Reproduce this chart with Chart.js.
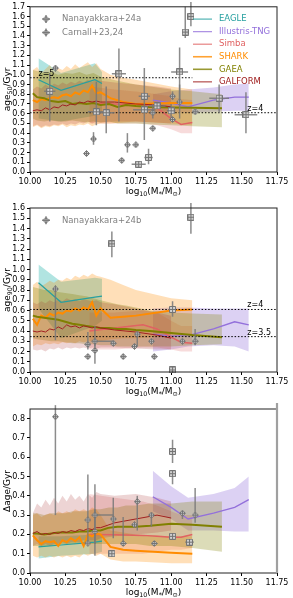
<!DOCTYPE html>
<html>
<head>
<meta charset="utf-8">
<script src="https://cdn.jsdelivr.net/npm/chart.js@4.4.1/dist/chart.umd.min.js"></script>
<style>
  html, body { margin: 0; padding: 0; background: #fff; }
  #wrap { position: relative; width: 293px; height: 598px; overflow: hidden; }
  canvas { position: absolute; left: 0; }
</style>
</head>
<body>
<div id="wrap">
  <canvas id="pAge50" width="293" height="200" style="top:0"></canvas>
  <canvas id="pAge90" width="293" height="200" style="top:200px"></canvas>
  <canvas id="pDage" width="293" height="198" style="top:400px"></canvas>
</div>
<script>
// ---- simulations ----
const simNames = ["EAGLE", "Illustris-TNG", "Simba", "SHARK", "GAEA", "GALFORM"];
const simColors = ["#27a0a0", "#9370db", "#e06262", "#ff8c00", "#808000", "#a02020"];
const simFills = ["rgba(32,178,170,0.35)", "rgba(147,112,219,0.32)", "rgba(220,90,90,0.22)",
                  "rgba(255,140,0,0.28)", "rgba(128,128,0,0.28)", "rgba(165,42,42,0.2)"];
const simWidths = [1.2, 1.3, 1.5, 2, 2, 1];

const eagleX = [10.06, 10.22, 10.46, 10.51];
const tngX = [10.87, 11.00, 11.12, 11.30, 11.45, 11.55];
const simbaX = [10.42, 10.60, 10.80, 10.90, 11.00, 11.07, 11.15];
const sharkX = [10.02, 10.05, 10.08, 10.11, 10.14, 10.17, 10.20, 10.23, 10.26, 10.29, 10.32, 10.35, 10.38, 10.41, 10.44, 10.47, 10.50, 10.57, 10.66, 10.75, 11.00, 11.15];
const gaeaX = [10.02, 10.05, 10.10, 10.15, 10.20, 10.25, 10.30, 10.35, 10.40, 10.45, 10.50, 10.56, 10.62, 10.68, 10.75, 10.85, 11.00, 11.15, 11.36];
const galformX = [10.02, 10.05, 10.08, 10.11, 10.14, 10.17, 10.20, 10.23, 10.26, 10.29, 10.32, 10.35, 10.38, 10.41, 10.44, 10.47, 10.50, 10.60, 10.75, 10.90, 11.00];

// age50
const eagle50 = [0.95, 0.84, 0.95, 0.91];
const eagle50Lo = [0.55, 0.52, 0.58, 0.62];
const eagle50Hi = [1.17, 1.02, 1.12, 1.03];
const tng50 = [0.74, 0.71, 0.67, 0.74, 0.77, 0.77];
const tng50Lo = [0.62, 0.62, 0.61, 0.62, 0.63, 0.63];
const tng50Hi = [0.80, 0.83, 0.85, 0.87, 0.90, 0.91];
const simba50 = [0.71, 0.70, 0.69, 0.66, 0.55, 0.49, 0.51];
const simba50Lo = [0.50, 0.50, 0.50, 0.48, 0.44, 0.40, 0.40];
const simba50Hi = [0.88, 0.85, 0.82, 0.80, 0.78, 0.75, 0.74];
const shark50 = [0.74, 0.72, 0.75, 0.74, 0.76, 0.77, 0.76, 0.79, 0.80, 0.78, 0.82, 0.80, 0.84, 0.82, 0.89, 0.81, 0.82, 0.76, 0.72, 0.70, 0.71, 0.71];
const shark50Lo = [0.46, 0.48, 0.45, 0.47, 0.46, 0.48, 0.47, 0.49, 0.46, 0.48, 0.47, 0.49, 0.48, 0.50, 0.47, 0.49, 0.50, 0.50, 0.51, 0.52, 0.50, 0.48];
const shark50Hi = [1.05, 1.08, 1.02, 1.06, 1.10, 1.04, 1.07, 1.05, 1.09, 1.06, 1.11, 1.07, 1.10, 1.13, 1.08, 1.12, 1.06, 1.00, 0.97, 0.95, 0.88, 0.85];
const gaea50 = [0.81, 0.77, 0.76, 0.73, 0.72, 0.73, 0.70, 0.71, 0.70, 0.71, 0.69, 0.70, 0.67, 0.69, 0.68, 0.67, 0.665, 0.66, 0.655];
const gaea50Lo = [0.55, 0.53, 0.52, 0.53, 0.52, 0.52, 0.53, 0.52, 0.51, 0.52, 0.51, 0.52, 0.50, 0.50, 0.50, 0.49, 0.48, 0.47, 0.46];
const gaea50Hi = [1.05, 1.04, 1.02, 1.03, 1.00, 1.02, 1.01, 1.03, 1.00, 1.02, 0.98, 0.96, 0.94, 0.92, 0.90, 0.88, 0.85, 0.83, 0.80];
const galform50 = [0.63, 0.64, 0.63, 0.66, 0.64, 0.67, 0.66, 0.69, 0.68, 0.70, 0.69, 0.72, 0.71, 0.73, 0.72, 0.73, 0.72, 0.72, 0.70, 0.69, 0.67];
const galform50Lo = [0.47, 0.49, 0.46, 0.48, 0.47, 0.49, 0.48, 0.50, 0.48, 0.50, 0.49, 0.51, 0.50, 0.52, 0.50, 0.52, 0.51, 0.52, 0.52, 0.51, 0.50];
const galform50Hi = [0.85, 0.88, 0.86, 0.90, 0.87, 0.91, 0.89, 0.92, 0.90, 0.93, 0.91, 0.94, 0.92, 0.95, 0.93, 0.95, 0.94, 0.92, 0.90, 0.88, 0.86];

// age90
const eagle90 = [0.87, 0.68, 0.73, 0.74];
const eagle90Lo = [0.62, 0.33, 0.45, 0.50];
const eagle90Hi = [1.05, 0.88, 0.92, 0.91];
const tng90 = [0.37, 0.35, 0.355, 0.42, 0.49, 0.46];
const tng90Lo = [0.20, 0.22, 0.25, 0.26, 0.25, 0.20];
const tng90Hi = [0.62, 0.63, 0.63, 0.62, 0.62, 0.62];
const simba90 = [0.40, 0.43, 0.46, 0.42, 0.34, 0.29, 0.28];
const simba90Lo = [0.22, 0.22, 0.24, 0.24, 0.22, 0.20, 0.20];
const simba90Hi = [0.58, 0.58, 0.60, 0.58, 0.50, 0.45, 0.45];
const shark90 = [0.52, 0.46, 0.55, 0.53, 0.57, 0.55, 0.58, 0.57, 0.60, 0.59, 0.62, 0.60, 0.63, 0.61, 0.68, 0.55, 0.62, 0.53, 0.54, 0.55, 0.60, 0.61];
const shark90Lo = [0.25, 0.27, 0.26, 0.28, 0.27, 0.28, 0.27, 0.29, 0.28, 0.29, 0.28, 0.30, 0.29, 0.30, 0.30, 0.31, 0.30, 0.32, 0.33, 0.33, 0.35, 0.35];
const shark90Hi = [0.85, 0.88, 0.84, 0.86, 0.89, 0.87, 0.90, 0.89, 0.92, 0.90, 0.94, 0.92, 0.95, 0.93, 0.96, 0.94, 0.93, 0.90, 0.85, 0.80, 0.72, 0.70];
const gaea90 = [0.55, 0.54, 0.53, 0.52, 0.51, 0.49, 0.47, 0.46, 0.45, 0.44, 0.43, 0.43, 0.42, 0.42, 0.41, 0.40, 0.38, 0.36, 0.34];
const gaea90Lo = [0.33, 0.32, 0.31, 0.30, 0.30, 0.29, 0.28, 0.28, 0.27, 0.27, 0.26, 0.26, 0.25, 0.25, 0.25, 0.25, 0.25, 0.26, 0.27];
const gaea90Hi = [0.83, 0.82, 0.80, 0.80, 0.78, 0.77, 0.76, 0.75, 0.74, 0.72, 0.70, 0.68, 0.66, 0.65, 0.63, 0.60, 0.58, 0.57, 0.56];
const galform90 = [0.40, 0.39, 0.40, 0.39, 0.42, 0.41, 0.44, 0.42, 0.46, 0.44, 0.45, 0.43, 0.45, 0.44, 0.43, 0.44, 0.43, 0.41, 0.39, 0.36, 0.33];
const galform90Lo = [0.22, 0.21, 0.22, 0.20, 0.23, 0.22, 0.24, 0.22, 0.24, 0.23, 0.24, 0.23, 0.24, 0.23, 0.24, 0.23, 0.24, 0.24, 0.23, 0.22, 0.22];
const galform90Hi = [0.68, 0.66, 0.69, 0.67, 0.70, 0.68, 0.71, 0.69, 0.72, 0.70, 0.71, 0.69, 0.71, 0.70, 0.69, 0.70, 0.68, 0.66, 0.62, 0.58, 0.55];

// delta age
const eagleD = [0.135, 0.145, 0.16, 0.165];
const eagleDLo = [0.075, 0.09, 0.10, 0.11];
const eagleDHi = [0.19, 0.19, 0.20, 0.20];
const tngD = [0.395, 0.34, 0.28, 0.31, 0.34, 0.38];
const tngDLo = [0.32, 0.28, 0.22, 0.22, 0.215, 0.215];
const tngDHi = [0.53, 0.45, 0.39, 0.41, 0.44, 0.50];
const simbaD = [0.20, 0.198, 0.195, 0.19, 0.185, 0.185, 0.20];
const simbaDLo = [0.10, 0.10, 0.10, 0.11, 0.12, 0.12, 0.13];
const simbaDHi = [0.41, 0.39, 0.37, 0.35, 0.32, 0.30, 0.30];
const sharkD = [0.195, 0.17, 0.15, 0.165, 0.16, 0.165, 0.14, 0.17, 0.16, 0.18, 0.165, 0.185, 0.14, 0.20, 0.19, 0.205, 0.20, 0.135, 0.12, 0.115, 0.105, 0.10];
const sharkDLo = [0.09, 0.08, 0.09, 0.08, 0.09, 0.08, 0.09, 0.08, 0.09, 0.08, 0.09, 0.08, 0.10, 0.09, 0.10, 0.09, 0.10, 0.07, 0.06, 0.06, 0.05, 0.05];
const sharkDHi = [0.30, 0.31, 0.29, 0.30, 0.31, 0.30, 0.32, 0.31, 0.32, 0.31, 0.33, 0.32, 0.33, 0.32, 0.34, 0.33, 0.30, 0.22, 0.21, 0.20, 0.19, 0.19];
const gaeaD = [0.205, 0.205, 0.20, 0.205, 0.21, 0.21, 0.21, 0.215, 0.215, 0.22, 0.22, 0.235, 0.24, 0.24, 0.24, 0.245, 0.255, 0.25, 0.24];
const gaeaDLo = [0.14, 0.14, 0.14, 0.14, 0.15, 0.15, 0.15, 0.15, 0.15, 0.15, 0.15, 0.15, 0.15, 0.15, 0.15, 0.14, 0.14, 0.13, 0.11];
const gaeaDHi = [0.31, 0.31, 0.30, 0.31, 0.31, 0.31, 0.32, 0.32, 0.32, 0.33, 0.33, 0.34, 0.34, 0.35, 0.35, 0.36, 0.36, 0.37, 0.37];
const galformD = [0.205, 0.215, 0.20, 0.205, 0.20, 0.21, 0.205, 0.215, 0.21, 0.22, 0.215, 0.225, 0.22, 0.23, 0.225, 0.235, 0.235, 0.26, 0.28, 0.30, 0.285];
const galformDLo = [0.14, 0.15, 0.14, 0.15, 0.14, 0.15, 0.15, 0.16, 0.15, 0.16, 0.16, 0.16, 0.17, 0.17, 0.17, 0.17, 0.18, 0.19, 0.20, 0.21, 0.22];
const galformDHi = [0.31, 0.36, 0.34, 0.38, 0.35, 0.39, 0.36, 0.40, 0.37, 0.41, 0.38, 0.40, 0.37, 0.41, 0.39, 0.42, 0.41, 0.40, 0.41, 0.39, 0.37];

// ---- observations ----
// Nanayakkara+24a (age50)
const nan24aX = [10.18, 10.40, 10.45, 10.65, 10.69, 10.75, 10.87, 10.87, 11.01, 11.01, 11.06, 11.17];
const nan24aY = [1.07, 0.19, 0.34, 0.12, 0.28, 0.28, 0.45, 0.61, 0.78, 0.54, 0.72, 0.62];
const nan24aLo = [1.07, 0.19, 0.28, 0.12, 0.20, 0.28, 0.45, 0.55, 0.74, 0.54, 0.55, 0.62];
const nan24aHi = [1.07, 0.19, 0.41, 0.12, 0.40, 0.28, 0.45, 0.70, 0.83, 0.54, 0.90, 0.62];
// Carnall+23,24 (age50)
const carX = [10.14, 10.47, 10.54, 10.63, 10.77, 10.81, 10.81, 10.84, 10.90, 11.00, 11.06, 11.10, 11.14, 11.34, 11.53];
const carY = [0.83, 0.62, 0.61, 1.01, 0.08, 0.78, 0.64, 0.15, 0.68, 0.63, 1.03, 1.44, 1.60, 0.76, 0.59];
const carLo = [0.52, 0.48, 0.40, 0.52, 0.08, 0.33, 0.64, 0.08, 0.68, 0.53, 0.73, 1.38, 1.50, 0.61, 0.40];
const carHi = [1.02, 0.93, 0.88, 1.27, 0.08, 1.07, 0.64, 0.24, 0.68, 0.70, 1.28, 1.70, 1.75, 0.90, 0.82];
const carXErr = [0.04, 0.06, 0.06, 0.05, 0.05, 0.04, 0.08, 0.03, 0.06, 0.03, 0.06, 0.01, 0.02, 0.07, 0.08];
// Nanayakkara+24b (age90 and delta age)
const nan24bX = [10.18, 10.41, 10.41, 10.46, 10.46, 10.59, 10.66, 10.74, 10.76, 10.86, 10.88, 11.08, 11.17];
const nan24bXHi = [10.18, 10.41, 10.41, 10.46, 10.59, 10.59, 10.66, 10.74, 10.76, 10.86, 10.88, 11.08, 11.17];
const age90Y = [0.81, 0.27, 0.15, 0.21, 0.30, 0.28, 0.15, 0.25, 0.37, 0.30, 0.15, 0.30, 0.30];
const age90Lo = [0.31, 0.22, 0.15, 0.08, 0.25, 0.28, 0.15, 0.25, 0.25, 0.30, 0.15, 0.28, 0.26];
const age90Hi = [0.84, 0.39, 0.15, 0.45, 0.31, 0.29, 0.15, 0.25, 0.39, 0.31, 0.15, 0.31, 0.42];
const sq90X = [10.58, 11.01, 11.01, 11.14];
const sq90Y = [1.25, 0.61, 0.02, 1.51];
const sq90Lo = [1.12, 0.54, 0.02, 1.35];
const sq90Hi = [1.37, 0.69, 0.02, 1.65];
const sq90XErr = [0.0, 0.01, 0.02, 0.02];
const dAgeY = [0.81, 0.275, 0.155, 0.215, 0.30, 0.28, 0.153, 0.25, 0.37, 0.30, 0.153, 0.31, 0.30];
const dAgeLo = [0.30, 0.16, 0.155, 0.09, 0.15, 0.18, 0.15, 0.25, 0.22, 0.24, 0.153, 0.28, 0.26];
const dAgeHi = [0.87, 0.51, 0.155, 0.46, 0.33, 0.39, 0.29, 0.25, 0.40, 0.31, 0.153, 0.32, 0.44];
const sqDX = [10.58, 11.01, 11.01, 11.01, 11.13];
const sqDY = [0.10, 0.63, 0.515, 0.19, 0.16];
const sqDLo = [0.10, 0.57, 0.46, 0.19, 0.16];
const sqDHi = [0.10, 0.69, 0.52, 0.19, 0.16];
const sqDXErr = [0.01, 0.02, 0.01, 0.02, 0.03];

// redshift reference lines
const zLabels50 = ["z=5", "z=4"];
const zAge50 = [0.97, 0.61];
const zEnd50 = [11.15, 11.75];
const zLabelX50 = [10.06, 11.54];
const zLabels90 = ["z=4", "z=3.5"];
const zAge90 = [0.61, 0.345];
const zEnd90 = [11.75, 11.75];
const zLabelX90 = [11.54, 11.54];

const FONT = "'DejaVu Sans', sans-serif";
const xTitle = [["log", 0], ["10", 1], ["(M", 0], ["*", 1], ["/M", 0], ["\u2299", 1], [")", 0]];

const markerImg = (shape) => {
    const c = document.createElement("canvas");
    c.width = 7; c.height = 7;
    const g = c.getContext("2d");
    g.strokeStyle = "#747474"; g.fillStyle = "#cfcfcf"; g.lineWidth = 1;
    g.beginPath();
    if (shape === "diamond") {
        g.moveTo(3.5, 0.5); g.lineTo(6.5, 3.5); g.lineTo(3.5, 6.5); g.lineTo(0.5, 3.5); g.closePath();
    } else {
        g.rect(0.5, 0.5, 6, 6);
    }
    g.fill(); g.stroke();
    g.beginPath(); g.moveTo(3.5, 1); g.lineTo(3.5, 6); g.moveTo(1, 3.5); g.lineTo(6, 3.5); g.stroke();
    return c;
};
const diamond = markerImg("diamond");
const square = markerImg("square");

const pts = (xs, ys) => xs.map((x, i) => ({ x, y: ys[i] }));

const drawRich = (ctx, parts, x, y, size) => {
    const sub = size * 0.7;
    let w = 0;
    parts.forEach(([t, s]) => { ctx.font = `${s ? sub : size}px ${FONT}`; w += ctx.measureText(t).width; });
    let cx = x - w / 2;
    ctx.textAlign = "left"; ctx.textBaseline = "middle";
    parts.forEach(([t, s]) => {
        ctx.font = `${s ? sub : size}px ${FONT}`;
        ctx.fillText(t, cx, s ? y + size * 0.3 : y);
        cx += ctx.measureText(t).width;
    });
};

const panelCfg = {};

const decor = {
    id: "decor",
    beforeDatasetDraw(chart, args) {
        const ds = chart.data.datasets[args.index];
        if (!ds.errs) return;
        const ctx = chart.ctx, xs = chart.scales.x, ys = chart.scales.y, e = ds.errs;
        ctx.save();
        ctx.strokeStyle = "rgba(120,120,120,0.85)";
        ctx.lineWidth = 1.5;
        ds.data.forEach((p, i) => {
            const px = xs.getPixelForValue(p.x), py = ys.getPixelForValue(p.y);
            ctx.beginPath();
            ctx.moveTo(px, ys.getPixelForValue(e.yLo[i]));
            ctx.lineTo(px, ys.getPixelForValue(e.yHi[i]));
            ctx.moveTo(xs.getPixelForValue(e.xLo[i]), py);
            ctx.lineTo(xs.getPixelForValue(e.xHi[i]), py);
            ctx.stroke();
        });
        ctx.restore();
    },
    afterDraw(chart) {
        const p = panelCfg[chart.canvas.id];
        const ctx = chart.ctx, a = chart.chartArea, xs = chart.scales.x, ys = chart.scales.y;
        ctx.save();
        ctx.strokeStyle = "#222"; ctx.lineWidth = 1;
        ctx.strokeRect(a.left, a.top, a.right - a.left, a.bottom - a.top);
        if (p.greyRight) {
            ctx.strokeStyle = "#a0a0a0"; ctx.lineWidth = 2.2;
            ctx.beginPath(); ctx.moveTo(a.right, a.top - 6); ctx.lineTo(a.right, a.bottom); ctx.stroke();
        }
        // redshift labels
        ctx.fillStyle = "#000"; ctx.font = `8px ${FONT}`;
        ctx.textAlign = "left"; ctx.textBaseline = "alphabetic";
        p.zLabels.forEach((t, i) => {
            ctx.fillText(t, xs.getPixelForValue(p.zLabelX[i]), ys.getPixelForValue(p.zAge[i]) - 2);
        });
        // axis titles
        ctx.fillStyle = "#000";
        drawRich(ctx, xTitle, (a.left + a.right) / 2, a.bottom + 20, 9);
        ctx.save();
        ctx.translate(8, (a.top + a.bottom) / 2);
        ctx.rotate(-Math.PI / 2);
        drawRich(ctx, p.yTitle, 0, 0, 9);
        ctx.restore();
        // observation legend
        ctx.font = `8.5px ${FONT}`; ctx.textBaseline = "middle"; ctx.textAlign = "left";
        p.obsLegend.forEach((t, i) => {
            const mx = a.left + 16, my = a.top + 12.3 + 13.5 * i;
            ctx.strokeStyle = "rgba(120,120,120,0.85)"; ctx.lineWidth = 1.5;
            ctx.beginPath();
            ctx.moveTo(mx - 4, my); ctx.lineTo(mx + 4, my);
            ctx.moveTo(mx, my - 4); ctx.lineTo(mx, my + 4);
            ctx.stroke();
            ctx.drawImage(diamond, mx - 3.5, my - 3.5);
            ctx.fillStyle = "#808080";
            ctx.fillText(t, a.left + 32, my);
        });
        // simulation legend
        if (p.simLegend) {
            simNames.forEach((n, k) => {
                const ly = a.top + 12.3 + 12.55 * k;
                ctx.strokeStyle = simColors[k]; ctx.lineWidth = Math.max(1.2, simWidths[k] * 0.8);
                ctx.globalAlpha = 0.8;
                ctx.beginPath(); ctx.moveTo(a.right - 84, ly); ctx.lineTo(a.right - 65, ly); ctx.stroke();
                ctx.globalAlpha = 1;
                ctx.fillStyle = simColors[k];
                ctx.fillText(n, a.right - 58, ly);
            });
        }
        ctx.restore();
    }
};

const simDatasets = (xs, mid, lo, hi, k) => [
    { data: pts(xs, lo), borderWidth: 0, pointRadius: 0, fill: false, order: 30 - k },
    { data: pts(xs, hi), borderWidth: 0, pointRadius: 0, fill: "-1", backgroundColor: simFills[k], order: 30 - k },
    { data: pts(xs, mid), borderColor: simColors[k], borderWidth: simWidths[k], pointRadius: 0, fill: false, order: 15 - k }
];

const obsDataset = (xs, ys, lo, hi, xLo, xHi, img) => ({
    type: "scatter", data: pts(xs, ys), pointStyle: img, pointRadius: 3.5,
    errs: { yLo: lo, yHi: hi, xLo, xHi }, order: 1, clip: false
});

const zDatasets = (ages, ends) => ages.map((z, i) => ({
    data: [{ x: 10, y: z }, { x: ends[i], y: z }], borderColor: "#000", borderWidth: 1,
    borderDash: [1.5, 1.8], pointRadius: 0, fill: false, order: 5
}));

const buildPanel = (id, p) => {
    panelCfg[id] = p;
    const datasets = [];
    p.sims.forEach((s, k) => { if (s) datasets.push(...simDatasets(s[0], s[1], s[2], s[3], k)); });
    datasets.push(...zDatasets(p.zAge, p.zEnd));
    datasets.push(...p.obs);
    const tickFont = { family: FONT, size: 8 };
    new Chart(document.getElementById(id), {
        type: "line",
        data: { datasets },
        plugins: [decor],
        options: {
            responsive: false,
            animation: false,
            events: [],
            layout: { padding: { top: p.padTop, right: 16, left: 0, bottom: 0 } },
            plugins: { legend: { display: false }, tooltip: { enabled: false } },
            scales: {
                x: {
                    type: "linear", min: 10, max: 11.75,
                    ticks: { stepSize: 0.25, autoSkip: false, maxRotation: 0, padding: 2, color: "#000", font: tickFont,
                             callback: (v) => v.toFixed(2) },
                    grid: { drawOnChartArea: false, drawTicks: true, tickLength: 3, color: "#000" },
                    border: { display: false },
                    afterFit: (s) => { s.height = p.xH; }
                },
                y: {
                    type: "linear", min: 0, max: p.yMax,
                    ticks: { stepSize: 0.1, autoSkip: false, includeBounds: false, padding: 2, color: "#000", font: tickFont,
                             callback: (v) => v.toFixed(1) },
                    grid: { drawOnChartArea: false, drawTicks: true, tickLength: 3, color: "#000" },
                    border: { display: false },
                    afterBuildTicks: (s) => {
                        s.ticks = s.ticks.filter((t) => Math.abs(t.value * 10 - Math.round(t.value * 10)) < 1e-6);
                    },
                    afterFit: (s) => { s.width = 30; }
                }
            }
        }
    });
};

buildPanel("pAge50", {
    padTop: 5, xH: 28, yMax: 1.7,
    yTitle: [["age", 0], ["50", 1], ["/Gyr", 0]],
    sims: [
        [eagleX, eagle50, eagle50Lo, eagle50Hi],
        [tngX, tng50, tng50Lo, tng50Hi],
        [simbaX, simba50, simba50Lo, simba50Hi],
        [sharkX, shark50, shark50Lo, shark50Hi],
        [gaeaX, gaea50, gaea50Lo, gaea50Hi],
        [galformX, galform50, galform50Lo, galform50Hi]
    ],
    zAge: zAge50, zEnd: zEnd50, zLabels: zLabels50, zLabelX: zLabelX50,
    obs: [
        obsDataset(nan24aX, nan24aY, nan24aLo, nan24aHi, nan24aX, nan24aX, diamond),
        obsDataset(carX, carY, carLo, carHi, carX.map((x, i) => x - carXErr[i]), carX.map((x, i) => x + carXErr[i]), square)
    ],
    obsLegend: ["Nanayakkara+24a", "Carnall+23,24"],
    simLegend: true
});

buildPanel("pAge90", {
    padTop: 8, xH: 28, yMax: 1.6,
    yTitle: [["age", 0], ["90", 1], ["/Gyr", 0]],
    sims: [
        [eagleX, eagle90, eagle90Lo, eagle90Hi],
        [tngX, tng90, tng90Lo, tng90Hi],
        [simbaX, simba90, simba90Lo, simba90Hi],
        [sharkX, shark90, shark90Lo, shark90Hi],
        [gaeaX, gaea90, gaea90Lo, gaea90Hi],
        [galformX, galform90, galform90Lo, galform90Hi]
    ],
    zAge: zAge90, zEnd: zEnd90, zLabels: zLabels90, zLabelX: zLabelX90,
    obs: [
        obsDataset(nan24bX, age90Y, age90Lo, age90Hi, nan24bX, nan24bXHi, diamond),
        obsDataset(sq90X, sq90Y, sq90Lo, sq90Hi, sq90X.map((x, i) => x - sq90XErr[i]), sq90X.map((x, i) => x + sq90XErr[i]), square)
    ],
    obsLegend: ["Nanayakkara+24b"],
    simLegend: false
});

buildPanel("pDage", {
    padTop: 9, xH: 25, yMax: 0.85, greyRight: true,
    yTitle: [["\u0394age/Gyr", 0]],
    sims: [
        [eagleX, eagleD, eagleDLo, eagleDHi],
        [tngX, tngD, tngDLo, tngDHi],
        [simbaX, simbaD, simbaDLo, simbaDHi],
        [sharkX, sharkD, sharkDLo, sharkDHi],
        [gaeaX, gaeaD, gaeaDLo, gaeaDHi],
        [galformX, galformD, galformDLo, galformDHi]
    ],
    zAge: [], zEnd: [], zLabels: [], zLabelX: [],
    obs: [
        obsDataset(nan24bX, dAgeY, dAgeLo, dAgeHi, nan24bX, nan24bXHi, diamond),
        obsDataset(sqDX, sqDY, sqDLo, sqDHi, sqDX.map((x, i) => x - sqDXErr[i]), sqDX.map((x, i) => x + sqDXErr[i]), square)
    ],
    obsLegend: [],
    simLegend: false
});
</script>
</body>
</html>
